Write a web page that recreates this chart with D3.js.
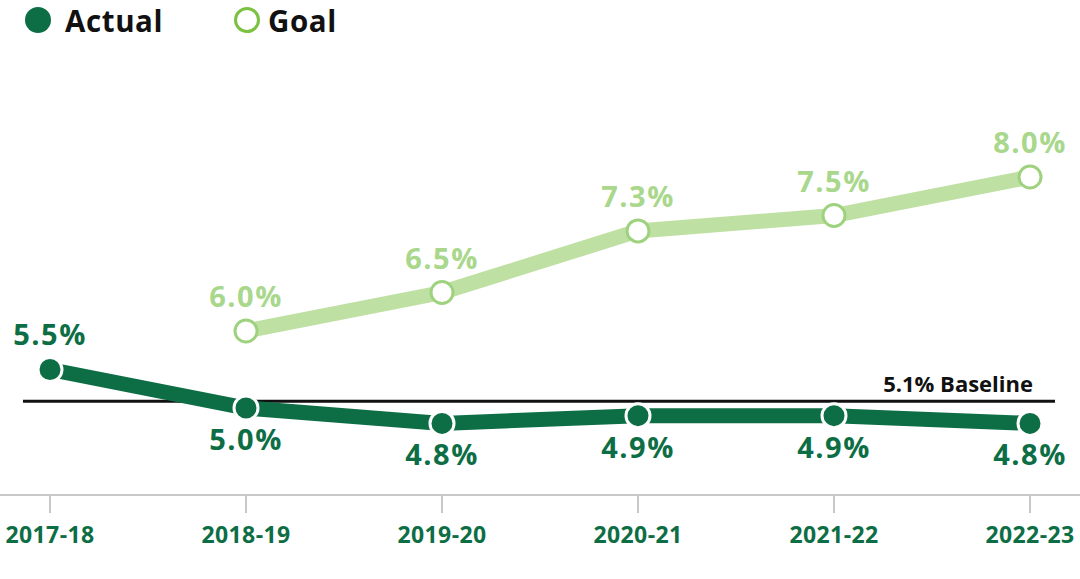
<!DOCTYPE html>
<html><head><meta charset="utf-8">
<script src="https://cdn.jsdelivr.net/npm/d3@7"></script>
<style>body{margin:0;background:#fff}svg{display:block}text{font-family:"Open Sans",Lato,sans-serif;font-weight:700}</style>
</head><body><svg id="c" width="1080" height="579"></svg>
<script>
const years = ["2017-18","2018-19","2019-20","2020-21","2021-22","2022-23"];
const actual = [5.5,5.0,4.8,4.9,4.9,4.8];
const goalYears = ["2018-19","2019-20","2020-21","2021-22","2022-23"];
const goal = [6.0,6.5,7.3,7.5,8.0];
const baseline = 5.1;
const dark="#0d6e45", lightLine="#bfe0a3", lightStroke="#9fd27f", lightText="#a9d78c";

const svg=d3.select("#c");
const x=d3.scalePoint().domain(years).range([50,1030]);
const y=d3.scaleLinear().domain([6.0,8.0]).range([331,177]);

// axis
const ax=svg.append("g").attr("transform","translate(0,495)");
ax.append("line").attr("x1",0).attr("x2",1080).attr("stroke","#c8c8c8").attr("stroke-width",2);
ax.selectAll("line.t").data(years).join("line").attr("class","t")
 .attr("x1",d=>x(d)).attr("x2",d=>x(d)).attr("y1",0).attr("y2",18).attr("stroke","#c8c8c8").attr("stroke-width",2);
ax.selectAll("text").data(years).join("text").attr("x",d=>x(d)).attr("y",48)
 .attr("text-anchor","middle").attr("fill",dark).attr("font-size",23).attr("letter-spacing",0.4).text(d=>d);

// baseline
svg.append("line").attr("x1",23).attr("x2",1055).attr("y1",y(baseline)+1).attr("y2",y(baseline)+1).attr("stroke","#111").attr("stroke-width",3);
svg.append("text").attr("x",1033).attr("y",y(baseline)-8).attr("text-anchor","end").attr("font-size",22).attr("fill","#111").text(baseline.toFixed(1)+"% Baseline");

const line=d3.line().x(d=>x(d[0])).y(d=>y(d[1]));
const gd=goalYears.map((d,i)=>[d,goal[i]]);
const ad=years.map((d,i)=>[d,actual[i]]);

svg.append("path").datum(gd).attr("d",line).attr("fill","none").attr("stroke",lightLine).attr("stroke-width",15);
svg.selectAll("circle.g").data(gd).join("circle").attr("class","g").attr("cx",d=>x(d[0])).attr("cy",d=>y(d[1])).attr("r",11)
 .attr("fill","#fff").attr("stroke",lightStroke).attr("stroke-width",3);
svg.selectAll("text.g").data(gd).join("text").attr("class","g").attr("x",d=>x(d[0])).attr("y",d=>y(d[1])-24)
 .attr("text-anchor","middle").attr("font-size",29).attr("letter-spacing",1.5).attr("fill",lightText).text(d=>d[1].toFixed(1)+"%");

svg.append("path").datum(ad).attr("d",line).attr("fill","none").attr("stroke",dark).attr("stroke-width",15);
svg.selectAll("circle.a").data(ad).join("circle").attr("class","a").attr("cx",d=>x(d[0])).attr("cy",d=>y(d[1])).attr("r",12)
 .attr("fill",dark).attr("stroke","#fff").attr("stroke-width",3);
svg.selectAll("text.a").data(ad).join("text").attr("class","a").attr("x",d=>x(d[0]))
 .attr("y",(d,i)=>i===0?y(d[1])-25:y(d[1])+42)
 .attr("text-anchor","middle").attr("font-size",29).attr("letter-spacing",1.5).attr("fill",dark).text(d=>d[1].toFixed(1)+"%");

// legend
svg.append("circle").attr("cx",38).attr("cy",20).attr("r",13).attr("fill",dark);
svg.append("text").attr("x",65).attr("y",32).attr("font-size",29.5).attr("letter-spacing",0.6).attr("fill","#111").text("Actual");
svg.append("circle").attr("cx",247).attr("cy",20).attr("r",11.5).attr("fill","#fff").attr("stroke","#7cc242").attr("stroke-width",3);
svg.append("text").attr("x",268).attr("y",32).attr("font-size",29.5).attr("letter-spacing",0.6).attr("fill","#111").text("Goal");
</script></body></html>
